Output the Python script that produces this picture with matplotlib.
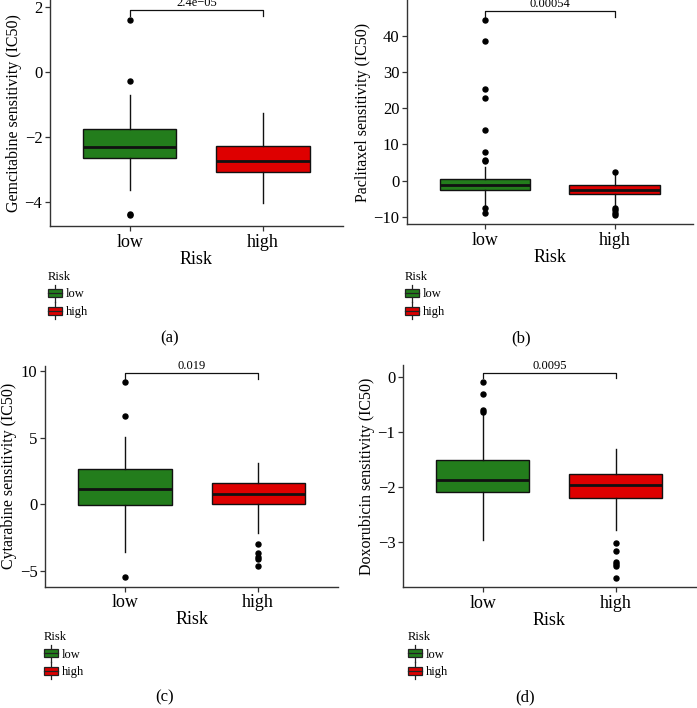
import matplotlib
matplotlib.use("Agg")
import matplotlib.pyplot as plt
from matplotlib.patches import Rectangle, Patch
from matplotlib.lines import Line2D
from matplotlib.legend_handler import HandlerBase

plt.rcParams['font.family'] = ['Liberation Serif', 'DejaVu Serif']

# ---- data ----
groups = ['low', 'high']
colors = ['#237d1c', '#de0000']

# (a) Gemcitabine
gem_q1 = [-2.65, -3.08]
gem_med = [-2.31, -2.74]
gem_q3 = [-1.75, -2.28]
gem_lo = [-3.63, -4.03]
gem_hi = [-0.71, -1.26]
gem_out = [[1.6, -0.28, -4.36, -4.40], []]
gem_p = '2.4e\u221205'

# (b) Paclitaxel
pac_q1 = [-2.7, -3.8]
pac_med = [-1.2, -2.6]
pac_q3 = [0.4, -1.3]
pac_lo = [-7.0, -7.0]
pac_hi = [3.8, 1.5]
pac_out = [[44.5, 38.5, 25.2, 22.8, 13.9, 7.9, 5.6, 5.3, -7.5, -8.9],
           [2.4, -7.6, -8.0, -9.0, -9.4]]
pac_p = '0.00054'

# (c) Cytarabine
cyt_q1 = [-0.04, 0.01]
cyt_med = [1.16, 0.78]
cyt_q3 = [2.61, 1.56]
cyt_lo = [-3.57, -2.2]
cyt_hi = [5.02, 3.06]
cyt_out = [[9.2, 6.64, -5.45], [-3.0, -3.7, -3.95, -4.15, -4.62]]
cyt_p = '0.019'

# (d) Doxorubicin
dox_q1 = [-2.10, -2.21]
dox_med = [-1.88, -1.96]
dox_q3 = [-1.52, -1.77]
dox_lo = [-2.97, -2.79]
dox_hi = [-0.67, -1.32]
dox_out = [[-0.09, -0.31, -0.61, -0.64],
           [-3.03, -3.16, -3.36, -3.41, -3.44, -3.65]]
dox_p = '0.0095'


def make_stats(q1, med, q3, lo, hi, out):
    return [dict(q1=q1[i], med=med[i], q3=q3[i], whislo=lo[i], whishi=hi[i],
                 fliers=out[i]) for i in range(len(q1))]


class BoxKey(HandlerBase):
    # small boxplot glyph for the legend keys
    def create_artists(self, legend, orig_handle, xdescent, ydescent,
                       width, height, fontsize, trans):
        x0, y0 = -xdescent, -ydescent
        bh = height * 0.8
        by = y0 + (height - bh) / 2
        cx = x0 + width / 2
        stub = Line2D([cx, cx], [y0 - 2.5, y0 + height + 2.5], color='#222222',
                      lw=0.9, transform=trans)
        rect = Rectangle((x0, by), width, bh, facecolor=orig_handle.get_facecolor(),
                         edgecolor='#222222', lw=0.9, transform=trans)
        med = Line2D([x0, x0 + width], [by + bh / 2] * 2, color='#222222',
                     lw=0.9, transform=trans)
        return [stub, rect, med]


fig = plt.figure(figsize=(6.97, 7.08), dpi=100)

panels = [
    ([0.0717, 0.6808, 0.4203, 0.3192], (-4.74, 2.2), [-4, -2, 0, 2],
     'Gemcitabine sensitivity (IC50)',
     make_stats(gem_q1, gem_med, gem_q3, gem_lo, gem_hi, gem_out), gem_p, (1.88, 1.70),
     (48 / 697, 1 - 271 / 708), (170 / 697, 1 - 338 / 708), '(a)'),
    ([0.5840, 0.6836, 0.4100, 0.3164], (-12.0, 49.9), [-10, 0, 10, 20, 30, 40],
     'Paclitaxel sensitivity (IC50)',
     make_stats(pac_q1, pac_med, pac_q3, pac_lo, pac_hi, pac_out), pac_p, (46.8, 45.2),
     (405 / 697, 1 - 271 / 708), (521 / 697, 1 - 338 / 708), '(b)'),
    ([0.0646, 0.1713, 0.4204, 0.3118], (-6.2, 10.37), [-5, 0, 5, 10],
     'Cytarabine sensitivity (IC50)',
     make_stats(cyt_q1, cyt_med, cyt_q3, cyt_lo, cyt_hi, cyt_out), cyt_p, (9.82, 9.4),
     (44 / 697, 1 - 631 / 708), (165 / 697, 1 - 697 / 708), '(c)'),
    ([0.5782, 0.1709, 0.4198, 0.3136], (-3.82, 0.21), [-3, -2, -1, 0],
     'Doxorubicin sensitivity (IC50)',
     make_stats(dox_q1, dox_med, dox_q3, dox_lo, dox_hi, dox_out), dox_p, (0.06, -0.03),
     (408 / 697, 1 - 631 / 708), (525 / 697, 1 - 697 / 708), '(d)'),
]

for rect, ylim, yticks, ylabel, stats, ptxt, brk, leg_pos, cap_pos, cap in panels:
    ax = fig.add_axes(rect)
    bp = ax.bxp(stats, positions=[1, 2], widths=0.7, patch_artist=True,
                showcaps=False,
                boxprops=dict(edgecolor='#111111', linewidth=1.0),
                whiskerprops=dict(color='#111111', linewidth=1.0),
                medianprops=dict(color='#111111', linewidth=2.0),
                flierprops=dict(marker='o', markerfacecolor='black',
                                markeredgecolor='black', markersize=3.6))
    for patch, c in zip(bp['boxes'], colors):
        patch.set_facecolor(c)

    ax.set_xlim(0.4, 2.6)
    ax.set_ylim(*ylim)
    ax.set_yticks(yticks)
    ax.set_yticklabels([str(t).replace('-', '\u2212') for t in yticks])
    ax.set_xticks([1, 2])
    ax.set_xticklabels(groups, fontsize=13)
    ax.tick_params(axis='y', labelsize=12)
    ax.tick_params(length=3.5, width=0.9, color='#333333', pad=2)
    for s in ['top', 'right']:
        ax.spines[s].set_visible(False)
    for s in ['left', 'bottom']:
        ax.spines[s].set_color('#333333')
        ax.spines[s].set_linewidth(1.0)
    ax.set_xlabel('Risk', fontsize=13, labelpad=0)
    ax.set_ylabel(ylabel, fontsize=11.5, labelpad=2)

    # significance bracket
    ax.plot([1, 1, 2, 2], [brk[1], brk[0], brk[0], brk[1]], color='#111111',
            lw=0.9, clip_on=False)
    ax.annotate(ptxt, xy=(1.5, brk[0]), xytext=(0, 1), textcoords='offset points',
                ha='center', va='bottom', fontsize=9, annotation_clip=False)

    handles = [Patch(facecolor=c, label=g) for g, c in zip(groups, colors)]
    fig.legend(handles=handles, title='Risk', loc='upper left', bbox_to_anchor=leg_pos,
               frameon=False, fontsize=9, title_fontsize=9, handlelength=1.15,
               handleheight=0.9, handletextpad=0.3, labelspacing=0.4,
               borderpad=0, borderaxespad=0, alignment='left',
               handler_map={Patch: BoxKey()})

    fig.text(cap_pos[0], cap_pos[1], cap, ha='center', va='center', fontsize=12)

fig.savefig('out.png', dpi=100)
